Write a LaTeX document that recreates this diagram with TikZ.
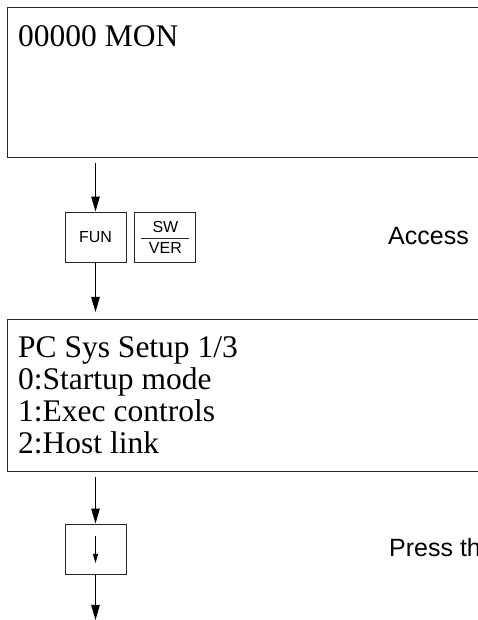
\documentclass[tikz,border=0pt]{standalone}
\usepackage{fontspec}
\setmainfont{Liberation Serif}
\setsansfont{Liberation Sans}
\usetikzlibrary{positioning, arrows.meta}

\begin{document}
\begin{tikzpicture}[x=1pt, y=1pt,
          screen/.style={rectangle, draw=black!85, line width=1pt,
                         anchor=north west, minimum width=520pt,
                         inner sep=0pt},
          keybox/.style={rectangle, draw=black!85, line width=0.9pt,
                         minimum width=61pt, minimum height=50pt,
                         inner sep=0pt, font=\fontsize{16}{18}\selectfont\sffamily},
          scrtext/.style={anchor=base west, inner sep=0pt,
                          font=\fontsize{31.5}{31.7}\selectfont},
          note/.style={anchor=base west, inner sep=0pt,
                       font=\fontsize{25}{28}\selectfont\sffamily},
          flow/.style={line width=1pt, draw=black,
                       -{Triangle[length=15pt, width=8.5pt]}}
        ]
        \useasboundingbox (0,0) rectangle (478,620);
        \clip (0,0) rectangle (478,620);

        % Monitor display
        \node[screen, minimum height=150pt] (mon) at (7,613) {};
        \node[scrtext] (montext) at (18,573) {00000 MON};

        % FUN and SW/VER keys
        \node[keybox] (fun) at (95.5,383) {FUN};
        \node[keybox, right=8pt of fun] (swver) {};
        \node[anchor=base, inner sep=0pt,
              font=\fontsize{16}{18}\selectfont\sffamily]
              (sw) at ([yshift=4pt]swver.center) {SW};
        \node[anchor=base, inner sep=0pt,
              font=\fontsize{16}{18}\selectfont\sffamily]
              (ver) at ([yshift=-17pt]swver.center) {VER};
        \draw[black!85, line width=0.8pt]
              ([xshift=-24pt, yshift=-1pt]swver.center) --
              ([xshift=24pt, yshift=-1pt]swver.center);
        \node[note] (access) at (388,375) {Access};

        % PC setup display
        \node[screen, minimum height=152pt] (setup) at (7,301) {};
        \foreach \txt [count=\i from 0] in
              {PC Sys Setup 1/3, 0:Startup mode, 1:Exec controls, 2:Host link}
          \node[scrtext] (line\i) at (18, 262-31.7*\i) {\txt};

        % Down key
        \node[keybox] (down) at (95.5,71) {};
        \draw[line width=0.8pt, -{Triangle[length=9pt, width=5pt]}]
              ([yshift=13pt]down.center) -- ([yshift=-14pt]down.center);
        \node[note] (press) at (389,63) {Press th};

        % Flow arrows
        \coordinate (bottom) at (95.5,0);
        \draw[flow, shorten <=5pt] (fun |- mon.south) -- (fun.north);
        \draw[flow, shorten >=7pt] (fun.south) -- (fun |- setup.north);
        \draw[flow, shorten <=5pt] (down |- setup.south) -- (down.north);
        \draw[flow] (down.south) -- (bottom);
      \end{tikzpicture}
\end{document}
